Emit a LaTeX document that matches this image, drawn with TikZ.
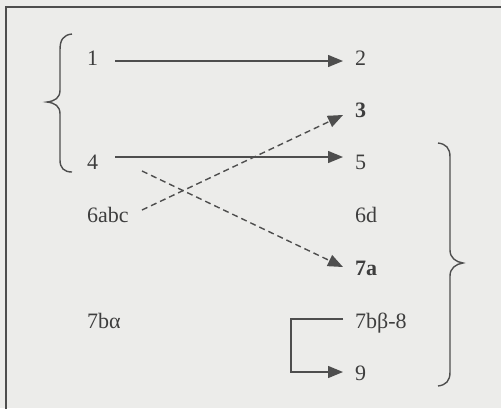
\documentclass[tikz,border=0pt]{standalone}
\usepackage{fontspec}
\setmainfont{Liberation Serif}
\usetikzlibrary{arrows.meta,calc}
\definecolor{paper}{HTML}{ECECEA}
\definecolor{ink}{HTML}{3E3E3E}
\definecolor{lineink}{HTML}{4E4E4E}
\tikzset{
 lbl/.style={inner sep=0pt, anchor=base west, text=ink, font=\fontsize{22}{23}\selectfont},
 conn/.style={draw=lineink, line width=1.4pt, -{Triangle[length=15pt,width=12pt]}},
 dconn/.style={conn, dash pattern=on 6pt off 4pt},
 bracestyle/.style={draw=lineink, line width=1.4pt},
 framestyle/.style={draw=lineink, line width=2pt}
}
\begin{document}
\begin{tikzpicture}[x=1pt,y=-1pt]
\fill[paper] (0,0) rectangle (501,408);
\useasboundingbox (0,0) rectangle (501,408);
\draw[framestyle] (6,410) -- (6,7) -- (503,7);
% labels
\node[lbl] (n1) at (87,65) {1};
\node[lbl] (n2) at (355,65) {2};
\node[lbl] (n3) at (355,117) {\bfseries 3};
\node[lbl] (n4) at (87,169) {4};
\node[lbl] (n5) at (355,169) {5};
\node[lbl] (n6abc) at (87,222) {6abc};
\node[lbl] (n6d) at (355,222) {6d};
\node[lbl] (n7a) at (355,275) {\bfseries 7a};
\node[lbl] (n7ba) at (87,328) {7bα};
\node[lbl] (n7bb) at (355,328) {7bβ-8};
\node[lbl] (n9) at (355,380) {9};
% connectors
\draw[conn] ($(n1.base west)+(28,-4)$) -- ($(n2.base west)+(-12,-4)$);
\draw[conn] ($(n4.base west)+(28,-12)$) -- ($(n5.base west)+(-12,-12)$);
\draw[dconn] ($(n6abc.base west)+(55,-12)$) -- ($(n3.base west)+(-12,-2)$);
\draw[dconn] ($(n4.base west)+(55,2)$) -- ($(n7a.base west)+(-12,-8)$);
\draw[conn] ($(n7bb.base west)+(-12,-9)$) -- ++(-52,0) |- ($(n9.base west)+(-12,-8)$);
% braces
\draw[bracestyle] (72,34) .. controls (63,35) and (60,40) .. (60,50) -- (60,90)
  .. controls (60,98) and (55,101) .. (47,102)
  .. controls (55,103) and (60,106) .. (60,114) -- (60,160)
  .. controls (60,168) and (64,172) .. (72,172);
\draw[bracestyle] (438,143) .. controls (446,144) and (450,148) .. (450,157) -- (450,250)
  .. controls (450,258) and (456,262) .. (463,263)
  .. controls (456,264) and (450,268) .. (450,276) -- (450,372)
  .. controls (450,381) and (446,385) .. (438,386);
\end{tikzpicture}
\end{document}
